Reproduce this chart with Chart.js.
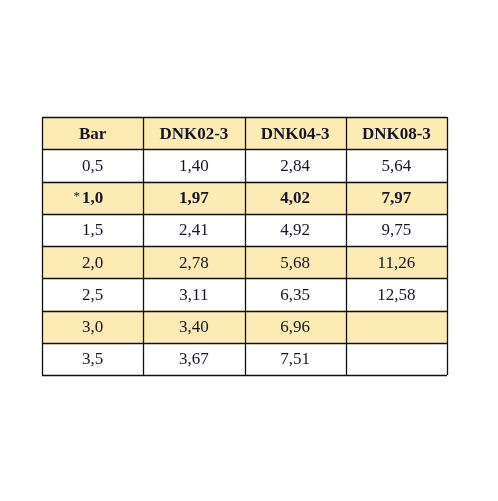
<!DOCTYPE html>
<html><head><meta charset="utf-8">
<script src="https://cdn.jsdelivr.net/npm/chart.js@4"></script>
<style>body{margin:0;background:#fff}#wrap{width:498px;height:501px}</style>
</head><body><div id="wrap"><canvas id="myChart"></canvas></div>
<script>
const headers = ['Bar', 'DNK02-3', 'DNK04-3', 'DNK08-3'];
const bar = ['0,5', '1,0', '1,5', '2,0', '2,5', '3,0', '3,5'];
const dnk02 = ['1,40', '1,97', '2,41', '2,78', '3,11', '3,40', '3,67'];
const dnk04 = ['2,84', '4,02', '4,92', '5,68', '6,35', '6,96', '7,51'];
const dnk08 = ['5,64', '7,97', '9,75', '11,26', '12,58', '', ''];
const boldRow = 1;

const columns = [bar, dnk02, dnk04, dnk08];

const tablePlugin = {
  id: 'table',
  afterDraw(chart) {
    const c = chart.ctx, x = chart.scales.x, y = chart.scales.y;
    const nRows = bar.length + 1;
    for (let r = 0; r < nRows; r++) {
      const y0 = y.getPixelForValue(r), y1 = y.getPixelForValue(r + 1);
      for (let col = 0; col < columns.length; col++) {
        const x0 = x.getPixelForValue(col), x1 = x.getPixelForValue(col + 1);
        if (r % 2 === 0) {
          c.fillStyle = '#fcebb3';
          c.fillRect(x0, y0, x1 - x0, y1 - y0);
        }
        let txt = r === 0 ? headers[col] : columns[col][r - 1];
        const bold = r === 0 || r - 1 === boldRow;
        c.fillStyle = '#15152a';
        c.textAlign = 'center';
        c.textBaseline = 'middle';
        c.font = (bold ? 'bold ' : '') + '17px "Liberation Serif", serif';
        const cx = (x0 + x1) / 2, cy = (y0 + y1) / 2 + 1;
        c.fillText(txt, cx, cy);
        if (col === 0 && r - 1 === boldRow) {
          const w = c.measureText(txt).width;
          c.font = '13px "Liberation Serif", serif';
          c.textAlign = 'right';
          c.fillText('*', cx - w / 2 - 2, cy - 2);
        }
      }
    }
    c.strokeStyle = '#111';
    c.lineWidth = 1.3;
    c.beginPath();
    for (let r = 0; r <= nRows; r++) {
      const py = Math.round(y.getPixelForValue(r)) + 0.5;
      c.moveTo(x.getPixelForValue(0), py); c.lineTo(x.getPixelForValue(4), py);
    }
    for (let col = 0; col <= columns.length; col++) {
      const px = Math.round(x.getPixelForValue(col)) + 0.5;
      c.moveTo(px, y.getPixelForValue(0)); c.lineTo(px, y.getPixelForValue(nRows));
    }
    c.stroke();
  }
};

new Chart(document.getElementById('myChart'), {
  type: 'scatter',
  data: { datasets: [{ data: [] }] },
  options: {
    responsive: true,
    maintainAspectRatio: false,
    animation: false,
    layout: { padding: { left: 42, right: 51, top: 117, bottom: 126 } },
    plugins: { legend: { display: false }, tooltip: { enabled: false } },
    scales: {
      x: { type: 'linear', min: 0, max: 4, display: false },
      y: { type: 'linear', min: 0, max: 8, reverse: true, display: false }
    }
  },
  plugins: [tablePlugin]
});
</script></body></html>
